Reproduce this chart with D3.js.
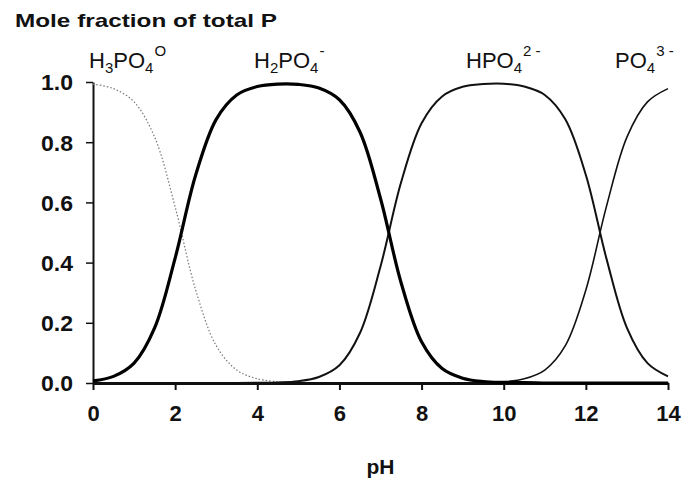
<!DOCTYPE html>
<html>
<head>
<meta charset="utf-8">
<script src="https://d3js.org/d3.v7.min.js"></script>
<style>
  body { margin: 0; background: #fff; }
  svg { display: block; font-family: "Liberation Sans", Arial, sans-serif; }
  .axis text { font-weight: bold; font-size: 22px; fill: #111; }
  .axis path, .axis line { stroke: #111; }
</style>
</head>
<body>
<svg id="chart" width="684" height="479"></svg>
<script>
// values, every 0.5 pH unit
const pH = [0, 0.5, 1, 1.5, 2, 2.5, 3, 3.5, 4, 4.5, 5, 5.5, 6, 6.5, 7,
  7.5, 8, 8.5, 9, 9.5, 10, 10.5, 11, 11.5, 12, 12.5, 13, 13.5, 14];

const h3po4 = [0.993, 0.978, 0.934, 0.817, 0.585, 0.309, 0.124, 0.043, 0.014, 0.004,
  null, null, null, null, null, null, null, null, null, null, null, null, null, null,
  null, null, null, null, null];
const h2po4 = [0.007, 0.022, 0.066, 0.183, 0.415, 0.691, 0.876, 0.957, 0.985, 0.993,
  0.992, 0.980, 0.941, 0.834, 0.613, 0.334, 0.137, 0.048, 0.016, 0.005, 0.002, 0.001,
  0, 0, 0, 0, 0, 0, 0];
const hpo4 = [0, 0, 0, 0, 0, 0, 0, 0, 0.001, 0.002, 0.006, 0.020, 0.059, 0.166, 0.387,
  0.666, 0.863, 0.952, 0.984, 0.993, 0.994, 0.985, 0.957, 0.876, 0.691, 0.414, 0.183,
  0.066, 0.022];
const po4 = [0, 0, 0, 0, 0, 0, 0, 0, 0, 0, 0, 0, 0, 0, 0, 0, 0, 0, 0, 0.001, 0.004,
  0.014, 0.043, 0.124, 0.309, 0.586, 0.817, 0.934, 0.978];

const xTicks = [0, 2, 4, 6, 8, 10, 12, 14];
const yTicks = [0, 0.2, 0.4, 0.6, 0.8, 1.0];

const yTitle = "Mole fraction of total P";
const xTitle = "pH";

// species labels: [main, sub, main, sub, sup]
const speciesLabels = [
  ["H", "3", "PO", "4", "O"],
  ["H", "2", "PO", "4", "-"],
  ["HPO", "", "", "4", "2 -"],
  ["PO", "", "", "4", "3 -"]
];

const svg = d3.select("#chart");
const x = d3.scaleLinear().domain([0, 14]).range([93, 668]);
const y = d3.scaleLinear().domain([0, 1]).range([383, 82]);

// axes
const xAxis = svg.append("g")
  .attr("class", "axis")
  .attr("transform", `translate(0,${y(0)})`)
  .call(d3.axisBottom(x).tickValues(xTicks).tickSize(7).tickSizeOuter(0)
    .tickFormat(d3.format("d")).tickPadding(15));
xAxis.select(".domain").attr("stroke-width", 3);
xAxis.selectAll(".tick line").attr("stroke-width", 2);

const yAxis = svg.append("g")
  .attr("class", "axis")
  .attr("transform", `translate(${x(0)},0)`)
  .call(d3.axisLeft(y).tickValues(yTicks).tickSize(7).tickSizeOuter(0)
    .tickFormat(d3.format(".1f")).tickPadding(13));
yAxis.select(".domain").attr("stroke-width", 2);
yAxis.selectAll(".tick line").attr("stroke-width", 1.5);
yAxis.selectAll(".tick text").attr("dy", "0.36em")
  .attr("textLength", 32).attr("lengthAdjust", "spacingAndGlyphs");

// curves
const line = (vals) => d3.line()
  .defined((d, i) => vals[i] !== null)
  .x((d) => x(d))
  .y((d, i) => y(vals[i]))
  .curve(d3.curveCatmullRom.alpha(0.5))(pH);

const series = [
  { vals: h3po4, color: "#777", width: 1.2, dash: "1.5,2" },
  { vals: hpo4, color: "#111", width: 2, dash: null },
  { vals: po4, color: "#111", width: 1.6, dash: null },
  { vals: h2po4, color: "#000", width: 3.2, dash: null }
];

series.forEach((s) => {
  svg.append("path")
    .attr("d", line(s.vals))
    .attr("fill", "none")
    .attr("stroke", s.color)
    .attr("stroke-width", s.width)
    .attr("stroke-dasharray", s.dash)
    .attr("stroke-linejoin", "round");
});

// titles
svg.append("text")
  .attr("x", 15).attr("y", 27)
  .attr("font-weight", "bold").attr("font-size", 19)
  .attr("textLength", 262).attr("lengthAdjust", "spacingAndGlyphs")
  .attr("fill", "#111")
  .text(yTitle);

svg.append("text")
  .attr("x", (x(0) + x(14)) / 2).attr("y", 474)
  .attr("text-anchor", "middle")
  .attr("font-weight", "bold").attr("font-size", 21)
  .attr("fill", "#111")
  .text(xTitle);

// species labels above the peaks
const labelX = [89, 254, 466, 615];
speciesLabels.forEach((lab, i) => {
  const t = svg.append("text")
    .attr("x", labelX[i]).attr("y", 68)
    .attr("font-size", 22).attr("fill", "#111");
  t.append("tspan").text(lab[0]);
  if (lab[1]) t.append("tspan").attr("font-size", 15).attr("dy", 5).text(lab[1]);
  if (lab[2]) t.append("tspan").attr("dy", lab[1] ? -5 : 0).text(lab[2]);
  t.append("tspan").attr("font-size", 15).attr("dy", 5).text(lab[3]);
  t.append("tspan").attr("font-size", 15).attr("dy", -17).attr("dx", 1).text(lab[4]);
});
</script>
</body>
</html>
